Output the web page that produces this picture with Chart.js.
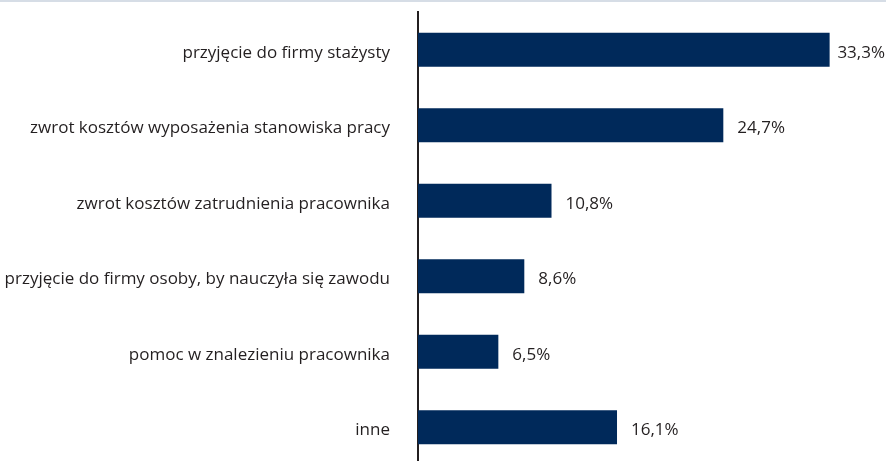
<!DOCTYPE html>
<html lang="pl">
<head>
<meta charset="utf-8">
<script src="https://cdn.jsdelivr.net/npm/chart.js@4.4.1/dist/chart.umd.min.js"></script>
<style>
  html, body { margin: 0; padding: 0; background: #fff; overflow: hidden; }
  .top-rule { position: absolute; left: 0; top: 0; width: 886px; height: 2px; background: #d6dde6; z-index: 2; }
  .chart-wrap { position: relative; width: 886px; height: 470px; }
</style>
</head>
<body>
<div class="top-rule"></div>
<div class="chart-wrap"><canvas id="chart"></canvas></div>
<script>
// Categories and shares (%)
const categories = [
  'przyjęcie do firmy stażysty',
  'zwrot kosztów wyposażenia stanowiska pracy',
  'zwrot kosztów zatrudnienia pracownika',
  'przyjęcie do firmy osoby, by nauczyła się zawodu',
  'pomoc w znalezieniu pracownika',
  'inne',
];
const values = [33.3, 24.7, 10.8, 8.6, 6.5, 16.1];
const valueLabels = ['33,3%', '24,7%', '10,8%', '8,6%', '6,5%', '16,1%'];

const FONT = '"Open Sans", sans-serif';
const TEXT = '#231f20';

// Value labels to the right of each bar
const valueLabelPlugin = {
  id: 'valueLabels',
  afterDatasetsDraw(chart) {
    const { ctx } = chart;
    const meta = chart.getDatasetMeta(0);
    ctx.save();
    ctx.font = '17px ' + FONT;
    ctx.fillStyle = TEXT;
    ctx.textBaseline = 'middle';
    meta.data.forEach((bar, i) => {
      const txt = valueLabels[i];
      const w = ctx.measureText(txt).width;
      const x = Math.min(bar.x + 14, chart.width - w - 1);
      ctx.fillText(txt, x, bar.y + 3);
    });
    ctx.restore();
  },
};

new Chart(document.getElementById('chart'), {
  type: 'bar',
  data: {
    labels: categories,
    datasets: [
      {
        data: values,
        backgroundColor: '#00295a',
        borderWidth: 0,
        barPercentage: 0.45,
        categoryPercentage: 1,
      },
    ],
  },
  options: {
    indexAxis: 'y',
    responsive: true,
    maintainAspectRatio: false,
    animation: false,
    layout: { padding: { top: 12, bottom: 5, right: 23, left: 0 } },
    plugins: {
      legend: { display: false },
      tooltip: { enabled: false },
    },
    scales: {
      x: {
        display: false,
        min: 0,
        max: 36,
      },
      y: {
        afterFit(scale) {
          scale.width = 418;
          // drop the extra room Chart.js keeps above/below tick labels
          scale.paddingTop = 0;
          scale.paddingBottom = 0;
        },
        grid: { display: false, drawTicks: false },
        border: { display: true, color: '#231f20', width: 2 },
        ticks: {
          padding: 28,
          labelOffset: 3,
          color: TEXT,
          font: { family: FONT, size: 17 },
        },
      },
    },
  },
  plugins: [valueLabelPlugin],
});
</script>
</body>
</html>
